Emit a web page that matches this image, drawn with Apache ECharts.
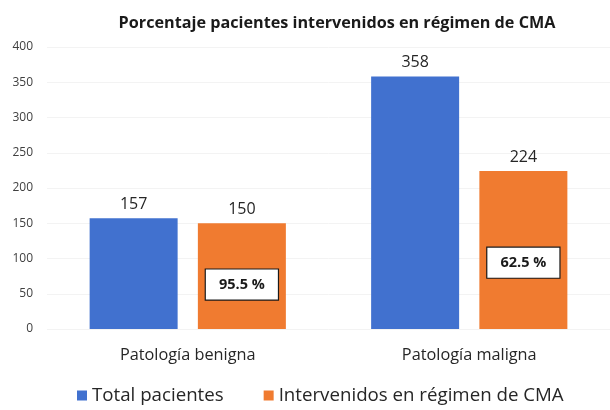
<!DOCTYPE html>
<html><head><meta charset="utf-8">
<script src="https://cdn.jsdelivr.net/npm/echarts@6/dist/echarts.min.js"></script>
<style>html,body{margin:0;padding:0;background:#fff}#c{width:610px;height:410px}</style>
</head><body><div id="c"></div>
<script>
const categories = ["Patología benigna", "Patología maligna"];
const totalPacientes = [157, 358];
const intervenidosCMA = [150, 224];
const porcentajes = ["95.5 %", "62.5 %"];
const yTicks = [0, 50, 100, 150, 200, 250, 300, 350, 400];
const seriesNames = ["Total pacientes", "Intervenidos en régimen de CMA"];

const FONT = '"Open Sans", "Noto Sans", sans-serif';
const chart = echarts.init(document.getElementById('c'));
const barW = 88, gap = '23%';
chart.setOption({
  animation: false,
  title: {
    text: 'Porcentaje pacientes intervenidos en régimen de CMA',
    left: 332, top: 10, textAlign: 'center',
    textStyle: { fontFamily: FONT, fontSize: 16.2, fontWeight: 'bold', color: '#1a1a1a' }
  },
  legend: {
    data: seriesNames, bottom: 0, left: 72,
    icon: 'rect', itemWidth: 10, itemHeight: 10, itemGap: 40,
    textStyle: { fontFamily: FONT, fontSize: 18.7, color: '#262626' }
  },
  grid: { left: 47, top: 47, width: 567, bottom: 81, containLabel: false },
  xAxis: [
    { type: 'category', data: categories,
      axisLine: { show: false }, axisTick: { show: false },
      axisLabel: { fontFamily: FONT, fontSize: 16.3, color: '#262626', margin: 18 } },
    { type: 'category', data: categories, show: false }
  ],
  yAxis: {
    type: 'value', min: yTicks[0], max: yTicks[yTicks.length - 1], interval: 50,
    axisLine: { show: false }, axisTick: { show: false },
    axisLabel: { fontFamily: FONT, fontSize: 12, color: '#404040', margin: 14 },
    splitLine: { lineStyle: { color: '#f3f3f3' } }
  },
  series: [
    { name: seriesNames[0], type: 'bar', data: totalPacientes, barWidth: barW, barGap: gap,
      itemStyle: { color: '#4171CF' },
      label: { show: true, position: 'top', distance: 6, fontFamily: FONT, fontSize: 16, color: '#262626' } },
    { name: seriesNames[1], type: 'bar', data: intervenidosCMA, barWidth: barW, barGap: gap,
      itemStyle: { color: '#F07B30' },
      label: { show: true, position: 'top', distance: 6, fontFamily: FONT, fontSize: 16, color: '#262626' } },
    { type: 'bar', xAxisIndex: 1, data: totalPacientes.map(() => 0), barWidth: barW, barGap: gap,
      itemStyle: { color: 'transparent' }, silent: true, legendHoverLink: false },
    { type: 'bar', xAxisIndex: 1, data: intervenidosCMA, barWidth: barW, barGap: gap,
      itemStyle: { color: 'transparent' }, silent: true,
      label: { show: true, position: ['50%', '58%'], align: 'center', verticalAlign: 'middle',
        formatter: p => porcentajes[p.dataIndex],
        fontFamily: FONT, fontSize: 14.5, fontWeight: 'bold', color: '#1a1a1a',
        backgroundColor: '#ffffff', borderColor: '#1a1a1a', borderWidth: 1.2,
        width: 72, height: 30, lineHeight: 30, padding: 0 } }
  ]
});
</script></body></html>
